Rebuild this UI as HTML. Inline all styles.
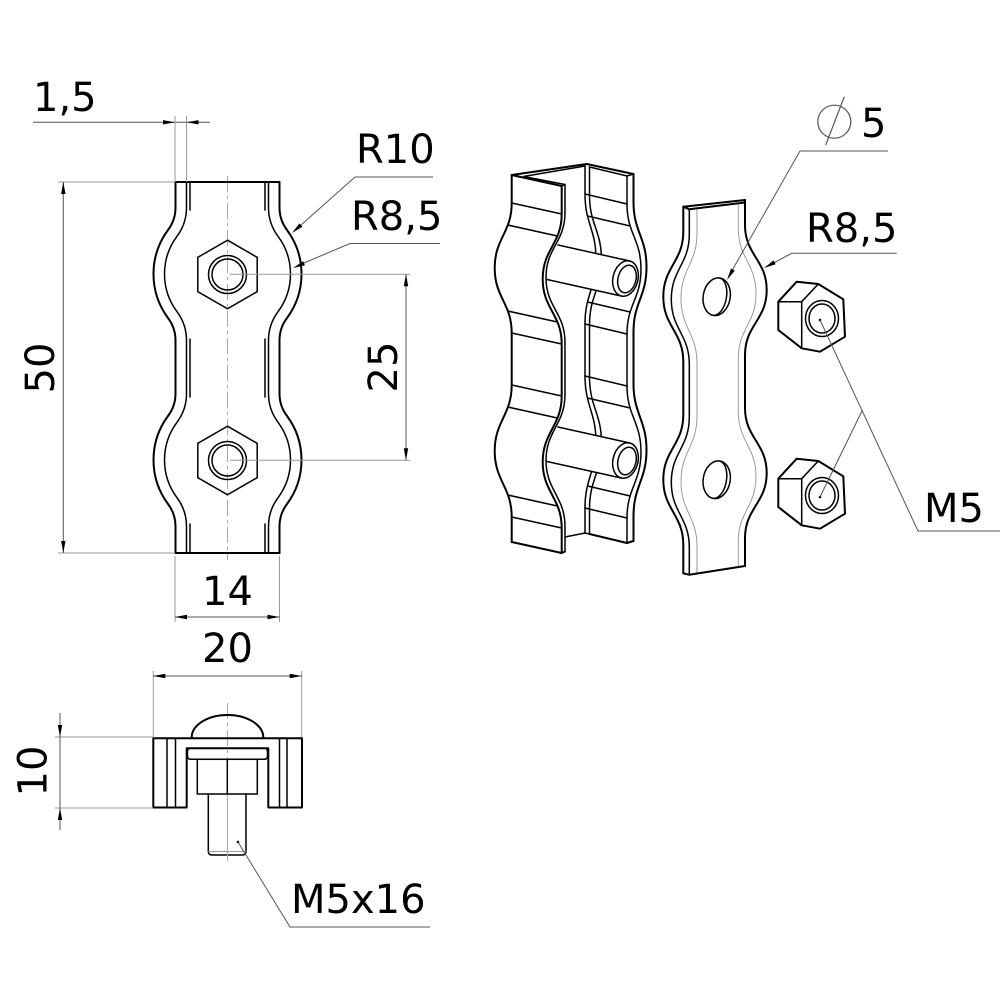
<!DOCTYPE html>
<html>
<head>
<meta charset="utf-8">
<style>
html,body{margin:0;padding:0;background:#fff;}
svg{display:block;}
.o{fill:none;stroke:#000;stroke-width:2;stroke-linejoin:round;stroke-linecap:round}
.t{fill:none;stroke:#000;stroke-width:1.5;stroke-linecap:round}
.d{fill:none;stroke:#555;stroke-width:1}
.c{fill:none;stroke:#aaa;stroke-width:1;stroke-dasharray:16 4 3 4}
.g{fill:none;stroke:#9a9a9a;stroke-width:1}
.a{fill:#000;stroke:none}
text{font-family:"DejaVu Sans","Liberation Sans",sans-serif;font-size:40px;fill:#000}
</style>
</head>
<body>
<svg width="1000" height="1000" viewBox="0 0 1000 1000" xmlns="http://www.w3.org/2000/svg">
<rect width="1000" height="1000" fill="#fff"/>

<!-- ================= FRONT VIEW ================= -->
<line class="c" x1="227.5" y1="176" x2="227.5" y2="560"/>
<line class="o" x1="175.5" y1="182" x2="279.5" y2="182"/>
<line class="o" x1="175.5" y1="553" x2="279.5" y2="553"/>
<path class="o" d="M279.5,182 V207.67 A37,37 0 0 0 286.83,229.78 A74,74 0 0 1 286.83,318.22 A37,37 0 0 0 279.5,340.33 V393.67 A37,37 0 0 0 286.83,415.78 A74,74 0 0 1 286.83,504.22 A37,37 0 0 0 279.5,526.33 V553"/>
<path class="o" d="M175.5,182 V207.67 A37,37 0 0 1 168.17,229.78 A74,74 0 0 0 168.17,318.22 A37,37 0 0 1 175.5,340.33 V393.67 A37,37 0 0 1 168.17,415.78 A74,74 0 0 0 168.17,504.22 A37,37 0 0 1 175.5,526.33 V553"/>
<path class="t" d="M268.5,182 V207.67 A48,48 0 0 0 278.01,236.35 A63,63 0 0 1 278.01,311.65 A48,48 0 0 0 268.5,340.33 V393.67 A48,48 0 0 0 278.01,422.35 A63,63 0 0 1 278.01,497.65 A48,48 0 0 0 268.5,526.33 V553"/>
<path class="t" d="M186.5,182 V207.67 A48,48 0 0 1 176.99,236.35 A63,63 0 0 0 176.99,311.65 A48,48 0 0 1 186.5,340.33 V393.67 A48,48 0 0 1 176.99,422.35 A63,63 0 0 0 176.99,497.65 A48,48 0 0 1 186.5,526.33 V553"/>
<path class="t" d="M190,182 V210 M190,339 V397 M190,524 V553 M265,182 V210 M265,339 V397 M265,524 V553"/>
<polygon class="t" points="227.5,240.2 257.2,257.35 257.2,291.65 227.5,308.8 197.8,291.65 197.8,257.35" fill="#fff"/>
<circle class="t" cx="227.5" cy="274.5" r="19"/>
<circle class="t" cx="227.5" cy="274.5" r="15.5"/>
<polygon class="t" points="227.5,426.2 257.2,443.35 257.2,477.65 227.5,494.8 197.8,477.65 197.8,443.35" fill="#fff"/>
<circle class="t" cx="227.5" cy="460.5" r="19"/>
<circle class="t" cx="227.5" cy="460.5" r="15.5"/>

<!-- dimension 1,5 -->
<line class="d" x1="33" y1="122.3" x2="210" y2="122.3"/>
<line class="g" x1="175" y1="116" x2="175" y2="182"/>
<line class="g" x1="186.5" y1="116" x2="186.5" y2="182"/>
<polygon class="a" points="175,122.3 163,120.1 163,124.5"/>
<polygon class="a" points="186.5,122.3 198.5,120.1 198.5,124.5"/>
<text x="33" y="111">1,5</text>

<!-- dimension 50 -->
<line class="g" x1="58" y1="182" x2="175" y2="182"/>
<line class="g" x1="58" y1="553" x2="175" y2="553"/>
<line class="d" x1="63.3" y1="182" x2="63.3" y2="553"/>
<polygon class="a" points="63.3,182 61.1,194 65.5,194"/>
<polygon class="a" points="63.3,553 61.1,541 65.5,541"/>
<text transform="translate(54,368) rotate(-90)" text-anchor="middle">50</text>

<!-- dimension 25 -->
<line class="g" x1="230" y1="274.3" x2="410" y2="274.3"/>
<line class="g" x1="230" y1="460.3" x2="410" y2="460.3"/>
<line class="d" x1="406" y1="274.3" x2="406" y2="460.3"/>
<polygon class="a" points="406,274.3 403.8,286.3 408.2,286.3"/>
<polygon class="a" points="406,460.3 403.8,448.3 408.2,448.3"/>
<text transform="translate(397,367) rotate(-90)" text-anchor="middle">25</text>

<!-- R10 / R8,5 leaders -->
<path class="d" d="M433,177 H355 L296,229.5"/>
<polygon class="a" points="292,233 302.4,226.7 299.5,223.4"/>
<text x="356" y="163">R10</text>
<path class="d" d="M440,243.5 H350 L298,265.5"/>
<polygon class="a" points="293,268 304.9,265.4 303.2,261.3"/>
<text x="351" y="230">R8,5</text>

<!-- dimension 14 -->
<line class="g" x1="175" y1="556" x2="175" y2="622"/>
<line class="g" x1="279.5" y1="556" x2="279.5" y2="622"/>
<line class="d" x1="175" y1="617" x2="279.5" y2="617"/>
<polygon class="a" points="175,617 187,614.8 187,619.2"/>
<polygon class="a" points="279.5,617 267.5,614.8 267.5,619.2"/>
<text x="227.5" y="605" text-anchor="middle">14</text>

<!-- dimension 20 -->
<line class="g" x1="153.3" y1="671" x2="153.3" y2="737"/>
<line class="g" x1="301.7" y1="671" x2="301.7" y2="737"/>
<line class="d" x1="153.3" y1="676" x2="301.7" y2="676"/>
<polygon class="a" points="153.3,676 165.3,673.8 165.3,678.2"/>
<polygon class="a" points="301.7,676 289.7,673.8 289.7,678.2"/>
<text x="227.5" y="662" text-anchor="middle">20</text>

<!-- ================= BOTTOM VIEW ================= -->
<line class="c" x1="227.5" y1="703" x2="227.5" y2="862"/>
<path class="o" d="M191.7,737.5 A35.8,22.5 0 0 1 263.3,737.5" fill="#fff"/>
<path class="o" d="M153.3,738.3 H302 V807.5 H268.3 V748.3 H186.7 V807.5 H153.3 Z" fill="#fff"/>
<path class="t" d="M167,738.3 V807.5 M175.5,738.3 V807.5 M279.5,738.3 V807.5 M287,738.3 V807.5"/>
<rect class="t" x="187.5" y="748.3" width="80" height="11" rx="3" fill="#fff"/>
<rect class="t" x="197.3" y="759.3" width="60" height="34.7" fill="#fff"/>
<line class="t" x1="227.3" y1="759.3" x2="227.3" y2="794"/>
<path class="t" d="M208.3,794 V851 Q208.3,855 212,855 H242.3 Q246,855 246,851 V794" fill="#fff"/>
<line class="g" x1="208.3" y1="851.5" x2="246" y2="851.5"/>
<line class="c" x1="227.5" y1="796" x2="227.5" y2="858"/>

<!-- dimension 10 -->
<line class="g" x1="55" y1="737" x2="153" y2="737"/>
<line class="g" x1="55" y1="808" x2="153" y2="808"/>
<line class="d" x1="60" y1="713" x2="60" y2="830"/>
<polygon class="a" points="60,737 57.8,725 62.2,725"/>
<polygon class="a" points="60,808 57.8,820 62.2,820"/>
<text transform="translate(46.5,771) rotate(-90)" text-anchor="middle">10</text>

<!-- M5x16 leader -->
<circle cx="238" cy="842" r="1.3" fill="#000"/>
<path class="d" d="M238,842 L290,927 H430"/>
<text x="291" y="913">M5x16</text>

<!-- ================= ISO CHANNEL ================= -->
<path class="t" d="M585,166 V194 C585,224 596,229 596,259 C596,289 585,294 585,324 V376 C585,406 596,412 596,442 C596,472 585,478 585,508 V533"/>
<path class="t" d="M589.5,167 V195 C589.5,225 601.5,230 601.5,260 C601.5,290 589.5,295 589.5,325 V377 C589.5,407 601.5,413 601.5,443 C601.5,473 589.5,479 589.5,509 V534"/>
<path class="t" d="M627,176 V204 C627,234 641,239 641,269 C641,299 627,304 627,334 V386 C627,416 641,422 641,452 C641,482 627,488 627,518 V543"/>
<path class="o" d="M633.5,174 V202 C633.5,232 646.5,237 646.5,267 C646.5,297 633.5,302 633.5,332 V384 C633.5,414 646.5,420 646.5,450 C646.5,480 633.5,486 633.5,516 V541"/>
<path class="t" d="M585,194 L627,204 M587.5,216 L630.2,226 M587.5,302 L630.2,312 M585,324 L627,334 M585,376 L627,386 M587.5,398 L630.2,408 M587.5,486 L630.2,496 M585,508 L627,518"/>
<path class="o" d="M589.5,534 L627,543 L633.5,541"/>
<path class="t" d="M565,537 L585,533 L589.5,534"/>
<path class="o" d="M561.7,186 L511.7,175 L586.7,164 L633.5,174"/>
<path class="t" d="M565,184.5 L561.7,186 M565,184.5 L523.5,176.5 L585,166 M589.5,167 L627,176 L633.5,174"/>

<polygon points="558,245 629.8,261 621.2,296 547,279.5" fill="#fff"/>
<path class="t" d="M558,245 L629.8,261 M547,279.5 L621.2,296"/>
<ellipse class="t" cx="625.5" cy="278.5" rx="12.5" ry="18" transform="rotate(13.7 625.5 278.5)" fill="#fff"/>
<ellipse class="t" cx="627" cy="279" rx="9" ry="14" transform="rotate(13.7 627 279)"/>
<polygon points="558,427 629.8,443 621.2,478 547,461.5" fill="#fff"/>
<path class="t" d="M558,427 L629.8,443 M547,461.5 L621.2,478"/>
<ellipse class="t" cx="625.5" cy="460.5" rx="12.5" ry="18" transform="rotate(13.7 625.5 460.5)" fill="#fff"/>
<ellipse class="t" cx="627" cy="461" rx="9" ry="14" transform="rotate(13.7 627 461)"/>

<path class="o" d="M511.7,175 V203 C511.7,233 494.7,238 494.7,268 C494.7,298 511.7,303 511.7,333 V385 C511.7,415 494.7,421 494.7,451 C494.7,481 511.7,487 511.7,517 V542"/>
<path class="o" d="M561.7,186 V214 C561.7,244 542.7,249 542.7,279 C542.7,309 561.7,314 561.7,344 V396 C561.7,426 542.7,432 542.7,462 C542.7,492 561.7,498 561.7,528 V553"/>
<path class="t" d="M565,184.5 V212.5 C565,242.5 546,247.5 546,277.5 C546,307.5 565,312.5 565,342.5 V394.5 C565,424.5 546,430.5 546,460.5 C546,490.5 565,496.5 565,526.5 V551.5"/>
<path class="t" d="M511.7,203 L561.7,214 M507.8,225 L557.3,236 M507.8,311 L557.3,322 M511.7,333 L561.7,344 M511.7,385 L561.7,396 M507.8,407 L557.3,418 M507.8,495 L557.3,506 M511.7,517 L561.7,528"/>
<path class="o" d="M511.7,542 L561.7,553 L565,551.5"/>

<!-- ================= ISO STRIP ================= -->
<path class="g" d="M697,208.4 V233.4 C697,263.4 681,268.4 681,298.4 C681,328.4 697,333.4 697,363.4 V416.4 C697,446.4 681,451.4 681,481.4 C681,511.4 697,516.4 697,546.4 V573.5"/>
<path class="g" d="M738.3,203.5 V228.5 C738.3,258.5 756,263.5 756,293.5 C756,323.5 738.3,328.5 738.3,358.5 V411.5 C738.3,441.5 756,446.5 756,476.5 C756,506.5 738.3,511.5 738.3,541.5 V567"/>
<path class="o" d="M683.3,206.7 V231.7 C683.3,261.7 663.3,266.7 663.3,296.7 C663.3,326.7 683.3,331.7 683.3,361.7 V414.7 C683.3,444.7 663.3,449.7 663.3,479.7 C663.3,509.7 683.3,514.7 683.3,544.7 V573.3"/>
<path class="t" d="M689.3,209.3 V234.3 C689.3,264.3 671.3,269.3 671.3,299.3 C671.3,329.3 689.3,334.3 689.3,364.3 V417.3 C689.3,447.3 671.3,452.3 671.3,482.3 C671.3,512.3 689.3,517.3 689.3,547.3 V574.8"/>
<path class="o" d="M745,200 V225 C745,255 766.7,260 766.7,290 C766.7,320 745,325 745,355 V408 C745,438 766.7,443 766.7,473 C766.7,503 745,508 745,538 V566"/>
<path class="o" d="M683.3,206.7 L745,200 M683.3,206.7 L689.3,209.3 L745,202.5 M683.3,573.3 L689.3,574.8 L745,566"/>
<ellipse class="t" cx="716.7" cy="296.7" rx="13.5" ry="19" transform="rotate(10 716.7 296.7)"/>
<path class="t" d="M720,278.2 A10,18.5 10 0 1 712.5,315.2"/>
<ellipse class="t" cx="716.7" cy="479.7" rx="13.5" ry="19" transform="rotate(10 716.7 479.7)"/>
<path class="t" d="M720,461.2 A10,18.5 10 0 1 712.5,498.2"/>

<!-- Ø5 leader -->
<path class="d" d="M888,151 H800 L730,274"/>
<polygon class="a" points="727,280 734.8,270.6 731,268.5"/>
<circle cx="834.3" cy="121.7" r="16.5" fill="none" stroke="#555" stroke-width="1.2"/>
<line x1="844.3" y1="96.7" x2="825.7" y2="145" stroke="#555" stroke-width="1.2"/>
<text x="861" y="137">5</text>

<!-- R8,5 right leader -->
<path class="d" d="M896.7,253.3 H791.7 L768,266"/>
<polygon class="a" points="764,268 775.6,264.3 773.6,260.4"/>
<text x="806" y="242">R8,5</text>

<!-- ================= ISO NUTS ================= -->
<g>
<path class="o" d="M778.3,301.7 L796.7,281.7 L818.3,284 L843.3,299.3 L845,336.7 L820,351.7 L801.7,348.3 L778.3,330 Z" fill="#fff"/>
<path class="t" d="M778.3,301.7 L801.7,301.7 L818.3,284 M801.7,301.7 L801.7,348.3"/>
<ellipse class="t" cx="822" cy="318.5" rx="16.5" ry="18"/>
<ellipse class="t" cx="822" cy="318.5" rx="13" ry="14.5"/>
<circle cx="820" cy="320" r="1.3" fill="#000"/>
</g>
<g transform="translate(0,177)">
<path class="o" d="M778.3,301.7 L796.7,281.7 L818.3,284 L843.3,299.3 L845,336.7 L820,351.7 L801.7,348.3 L778.3,330 Z" fill="#fff"/>
<path class="t" d="M778.3,301.7 L801.7,301.7 L818.3,284 M801.7,301.7 L801.7,348.3"/>
<ellipse class="t" cx="822" cy="318.5" rx="16.5" ry="18"/>
<ellipse class="t" cx="822" cy="318.5" rx="13" ry="14.5"/>
<circle cx="820" cy="320" r="1.3" fill="#000"/>
</g>

<!-- M5 leader -->
<path class="d" d="M820,320 L918,531 H1000 M820,497 L862,411"/>
<text x="924" y="522">M5</text>

</svg>
</body>
</html>
